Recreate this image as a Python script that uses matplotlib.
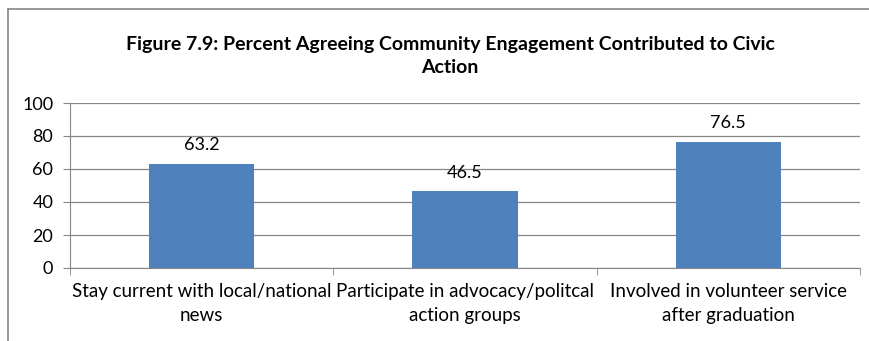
import matplotlib.pyplot as plt
from matplotlib.lines import Line2D

categories = ["Stay current with local/national\nnews",
              "Participate in advocacy/politcal\naction groups",
              "Involved in volunteer service\nafter graduation"]
values = [63.2, 46.5, 76.5]
yticks = [0, 20, 40, 60, 80, 100]
title = "Figure 7.9: Percent Agreeing Community Engagement Contributed to Civic\nAction"

plt.rcParams['font.family'] = ['Lato', 'DejaVu Sans']

fig = plt.figure(figsize=(8.7, 3.41), dpi=100)
ax = fig.add_axes([70 / 870, 1 - 268 / 341, 790 / 870, 165 / 341])

x = list(range(len(values)))
ax.bar(x, values, width=0.4, color="#4F81BD", zorder=3)
for xi, v in zip(x, values):
    ax.text(xi, v + 6.5, f"{v:.1f}", ha="center", va="bottom", fontsize=13)

ax.set_xlim(-0.5, 2.5)
ax.set_ylim(0, 100)
ax.set_yticks(yticks)
ax.tick_params(axis="y", labelsize=13, length=5, color="#868686", pad=7)
ax.yaxis.grid(True, color="#868686", linewidth=0.9, zorder=0)

ax.set_xticks(x)
ax.set_xticklabels(categories, fontsize=13.5, linespacing=1.5)
ax.tick_params(axis="x", length=0, pad=11)
ax.set_xticks([-0.5, 0.5, 1.5, 2.5], minor=True)
ax.tick_params(axis="x", which="minor", length=5, color="#868686")

for s in ["top", "right"]:
    ax.spines[s].set_visible(False)
for s in ["left", "bottom"]:
    ax.spines[s].set_color("#868686")

fig.text(450 / 870, 1 - 56 / 341, title, ha="center", va="center",
         fontsize=14, fontweight="bold", linespacing=1.4)

# chart frame
fig.add_artist(Line2D([8 / 870, 8 / 870], [0, 1 - 9 / 341], transform=fig.transFigure,
                      color="#868686", linewidth=1.2))
fig.add_artist(Line2D([8 / 870, 1], [1 - 9 / 341, 1 - 9 / 341], transform=fig.transFigure,
                      color="#868686", linewidth=1.2))

fig.savefig("out.png", dpi=100)
